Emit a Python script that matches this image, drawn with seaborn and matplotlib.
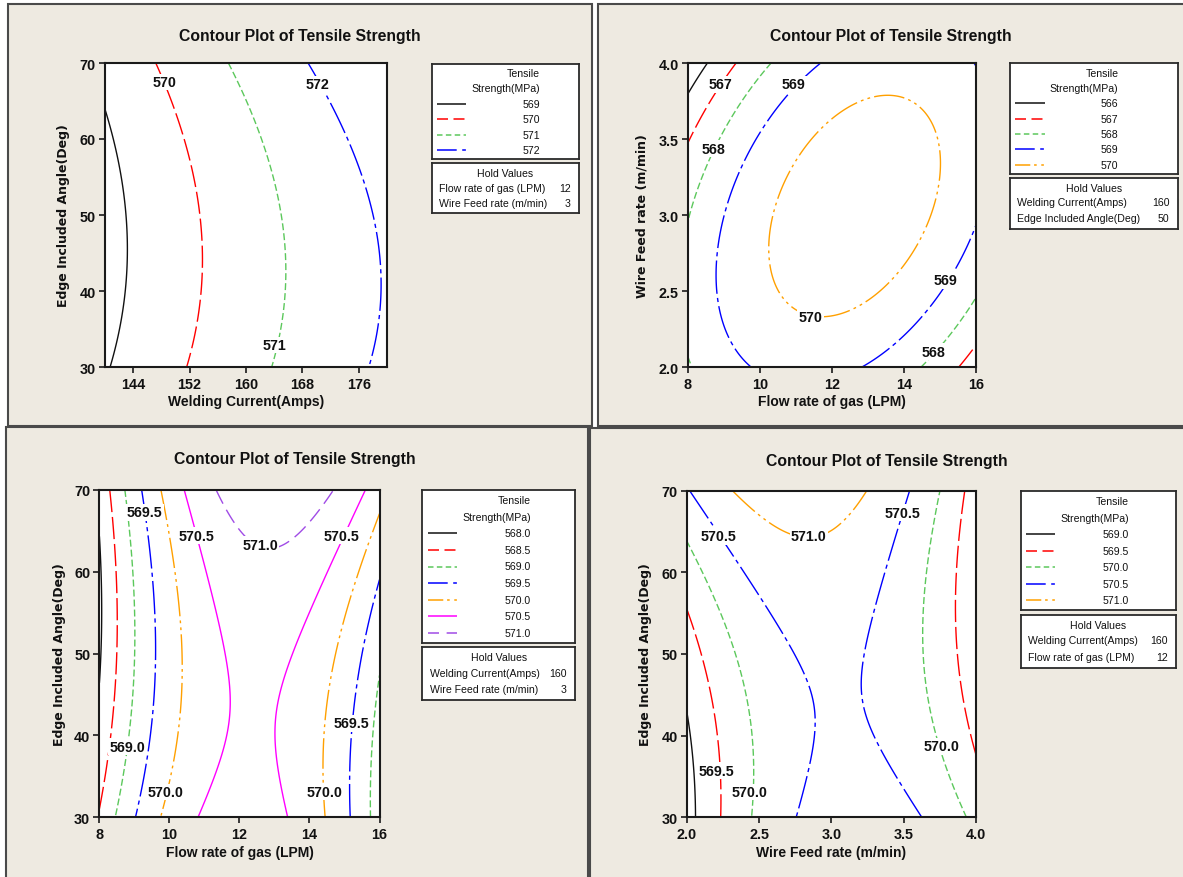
import numpy as np
import matplotlib
matplotlib.use("Agg")
import matplotlib.pyplot as plt
from matplotlib.patches import Rectangle
import seaborn as sns

sns.set_theme(style="white")
plt.rcParams["font.family"] = ["Liberation Sans", "DejaVu Sans"]

W, H = 1183, 878

# ---------------------------------------------------------------------------
# Quadratic response-surface model of tensile strength (coded factor units)
# factors: 0 welding current, 1 gas flow rate, 2 wire feed rate, 3 edge angle
# ---------------------------------------------------------------------------
factor_names = ["Welding Current(Amps)", "Flow rate of gas (LPM)",
                "Wire Feed rate (m/min)", "Edge Included Angle(Deg)"]
factor_center = [160.0, 12.0, 3.0, 50.0]
factor_step = [20.0, 4.0, 1.0, 20.0]
coef_const = 570.58
coef_linear = [1.72, 0.57, -0.041, 0.26]
coef_square = [-0.16, -2.06, -1.38, 0.39]
coef_pairs = [(0, 3), (1, 3), (2, 3), (1, 2)]
coef_cross = [0.10, 0.47, -0.566, 1.30]

# contour levels of each plot
levels_current_angle = [569, 570, 571, 572]
levels_gas_wire = [566, 567, 568, 569, 570]
levels_gas_angle = [568.0, 568.5, 569.0, 569.5, 570.0, 570.5, 571.0]
levels_wire_angle = [569.0, 569.5, 570.0, 570.5, 571.0]

# factors held fixed in each plot: (factor index, setting)
hold_current_angle = [(1, 12), (2, 3)]
hold_gas_wire = [(0, 160), (3, 50)]
hold_gas_angle = [(0, 160), (2, 3)]
hold_wire_angle = [(0, 160), (1, 12)]

# tick values
current_ticks = [144, 152, 160, 168, 176]
gas_ticks = [8, 10, 12, 14, 16]
wire_ticks = [2.0, 2.5, 3.0, 3.5, 4.0]
angle_ticks = [30, 40, 50, 60, 70]

# ---------------------------------------------------------------------------
# styling
# ---------------------------------------------------------------------------
PANEL_BG = "#EEEAE1"
level_colors = ["#111111", "#FF0000", "#5CC85C", "#0000FF", "#FFA000",
                "#FF00FF", "#A04BE6"]
plot_dashes = ["solid", (0, (16, 3.5)), (0, (5, 2.2)), (0, (24, 3, 3, 3)),
               (0, (22, 3, 2, 3, 2, 3)), "solid", (0, (11, 5))]
key_dashes = ["solid", (0, (7.2, 3.6)), (0, (3.6, 2.2)), (0, (12.9, 3.6, 2.4, 3.6)),
              (0, (10, 2.5, 1.7, 3, 1.7, 3)), "solid", (0, (7.2, 5))]

TOP_KEY = dict(t1=9.6, t2=24.8, first=40.3, step=15.3, pad=9.3,
               h_title=9.8, h_rows=(24.3, 40.1))
BOT_KEY = dict(t1=10.5, t2=27.0, first=43.3, step=16.6, pad=9.7,
               h_title=10.2, h_rows=(25.7, 42.2))

panels = [
    dict(fx=0, fy=3, levels=levels_current_angle, hold=hold_current_angle,
         xticks=current_ticks, yticks=angle_ticks, xfmt="{:.0f}", yfmt="{:.0f}",
         lfmt="{:.0f}",
         frame=(8, 5, 591.5, 426.7), plot=(105, 64, 387, 368),
         title=(299.5, 36), xlabel=(246, 402), ylabel=(63, 216),
         key=(431.7, 64.7, 579), hold_box=(164.3, 214.3), key_style=TOP_KEY,
         spots=[(148.4, 67.5, 1), (170.1, 67.2, 3), (164.05, 32.9, 2)]),
    dict(fx=1, fy=2, levels=levels_gas_wire, hold=hold_gas_wire,
         xticks=gas_ticks, yticks=wire_ticks, xfmt="{:.0f}", yfmt="{:.1f}",
         lfmt="{:.0f}",
         frame=(597.5, 5, 1190, 427), plot=(688, 64, 976, 368),
         title=(891, 36), xlabel=(832, 402), ylabel=(642, 216),
         key=(1010, 64, 1178), hold_box=(179, 230), key_style=TOP_KEY,
         spots=[(8.89, 3.86, 1), (10.94, 3.86, 3), (8.70, 3.435, 2),
                (11.41, 2.33, 4), (15.16, 2.57, 3), (14.83, 2.10, 2)]),
    dict(fx=1, fy=3, levels=levels_gas_angle, hold=hold_gas_angle,
         xticks=gas_ticks, yticks=angle_ticks, xfmt="{:.0f}", yfmt="{:.0f}",
         lfmt="{:.1f}",
         frame=(6, 428.3, 587.5, 885), plot=(99.4, 491, 379.5, 818.3),
         title=(295, 460), xlabel=(239.5, 853), ylabel=(59, 655),
         key=(422.4, 491, 575), hold_box=(648.3, 701), key_style=BOT_KEY,
         spots=[(9.28, 67.3, 3), (10.78, 64.4, 5), (12.59, 63.3, 6),
                (14.92, 64.4, 5), (8.79, 38.6, 2), (9.88, 33.1, 4),
                (15.19, 41.5, 3), (14.43, 33.1, 4)]),
    dict(fx=2, fy=3, levels=levels_wire_angle, hold=hold_wire_angle,
         xticks=wire_ticks, yticks=angle_ticks, xfmt="{:.1f}", yfmt="{:.0f}",
         lfmt="{:.1f}",
         frame=(589.5, 428.7, 1190, 885), plot=(686.7, 491.7, 976.2, 818.3),
         title=(887, 462), xlabel=(831.5, 853), ylabel=(645, 655),
         key=(1020.6, 491.7, 1176.2), hold_box=(615.7, 669.3), key_style=BOT_KEY,
         spots=[(3.494, 67.3, 3), (2.218, 64.4, 3), (2.844, 64.5, 4),
                (3.761, 38.7, 2), (2.204, 35.7, 1), (2.433, 33.1, 2)]),
]


def px_rect(l, t, r, b):
    return [l / W, 1 - b / H, (r - l) / W, (b - t) / H]


def fx_(x):
    return x / W


def fy_(y):
    return 1 - y / H


def response(gx, gy, ix, iy, hold):
    coded = [np.zeros_like(gx) for _ in range(4)]
    for idx, val in hold:
        coded[idx] = np.full_like(gx, (val - factor_center[idx]) / factor_step[idx])
    coded[ix] = (gx - factor_center[ix]) / factor_step[ix]
    coded[iy] = (gy - factor_center[iy]) / factor_step[iy]
    z = np.full_like(gx, coef_const)
    for i in range(4):
        z = z + coef_linear[i] * coded[i] + coef_square[i] * coded[i] ** 2
    for (i, j), c in zip(coef_pairs, coef_cross):
        z = z + c * coded[i] * coded[j]
    return z


fig = plt.figure(figsize=(W / 100, H / 100), dpi=100)
fig.patch.set_facecolor("white")

for p in panels:
    # panel background
    l, t, r, b = p["frame"]
    fig.add_artist(Rectangle((fx_(l), fy_(b)), (r - l) / W, (b - t) / H,
                             transform=fig.transFigure, facecolor=PANEL_BG,
                             edgecolor="#4a4a4a", linewidth=1.5, zorder=-5))

    ix, iy = p["fx"], p["fy"]
    x0 = factor_center[ix] - factor_step[ix]
    x1 = factor_center[ix] + factor_step[ix]
    y0 = factor_center[iy] - factor_step[iy]
    y1 = factor_center[iy] + factor_step[iy]
    gx, gy = np.meshgrid(np.linspace(x0, x1, 400), np.linspace(y0, y1, 400))
    z = response(gx, gy, ix, iy, p["hold"])

    ax = fig.add_axes(px_rect(*p["plot"]))
    ax.set_facecolor("white")
    for k, lev in enumerate(p["levels"]):
        ax.contour(gx, gy, z, levels=[lev], colors=[level_colors[k]],
                   linewidths=1.0, linestyles=[plot_dashes[k]])
    ax.set_xlim(x0, x1)
    ax.set_ylim(y0, y1)

    for sx, sy, li in p["spots"]:
        ax.text(sx, sy, p["lfmt"].format(p["levels"][li]), ha="center", va="center",
                fontsize=10.3, fontweight="bold", color="#111111", zorder=6,
                bbox=dict(boxstyle="square,pad=0.1", fc="white", ec="none"))

    ax.set_xticks(p["xticks"])
    ax.set_yticks(p["yticks"])
    ax.set_xticklabels([p["xfmt"].format(v) for v in p["xticks"]],
                       fontsize=10.4, fontweight="bold")
    ax.set_yticklabels([p["yfmt"].format(v) for v in p["yticks"]],
                       fontsize=10.4, fontweight="bold")
    ax.tick_params(axis="both", which="major", bottom=True, left=True,
                   direction="out", length=4, width=1.2, color="#1a1a1a",
                   labelcolor="#111111")
    ax.tick_params(axis="x", pad=3.2)
    ax.tick_params(axis="y", pad=2.6)
    for sp in ax.spines.values():
        sp.set_visible(True)
        sp.set_color("#1a1a1a")
        sp.set_linewidth(1.5)

    # titles and axis names
    fig.text(fx_(p["title"][0]), fy_(p["title"][1]), "Contour Plot of Tensile Strength",
             ha="center", va="center", fontsize=11.3, fontweight="bold", color="#111111")
    fig.text(fx_(p["xlabel"][0]), fy_(p["xlabel"][1]), factor_names[ix],
             ha="center", va="center", fontsize=10, fontweight="bold", color="#111111")
    fig.text(fx_(p["ylabel"][0]), fy_(p["ylabel"][1]), factor_names[iy],
             ha="center", va="center", rotation=90, fontsize=9,
             fontweight="bold", family=["DejaVu Sans"], color="#111111")

    # contour key
    ks = p["key_style"]
    kl, kt, kr = p["key"]
    n = len(p["levels"])
    kb = kt + ks["first"] + ks["step"] * (n - 1) + ks["pad"]
    kax = fig.add_axes(px_rect(kl, kt, kr, kb))
    kw, kh = kr - kl, kb - kt
    kax.set_xlim(0, kw)
    kax.set_ylim(kh, 0)
    kax.set_xticks([])
    kax.set_yticks([])
    kax.set_facecolor("white")
    for sp in kax.spines.values():
        sp.set_visible(True)
        sp.set_color("#2a2a2a")
        sp.set_linewidth(1.3)
    kax.text(108.5, ks["t1"], "Tensile", ha="right", va="center", fontsize=7.6,
             color="#111111")
    kax.text(108.5, ks["t2"], "Strength(MPa)", ha="right", va="center",
             fontsize=7.6, color="#111111")
    for k, lev in enumerate(p["levels"]):
        yy = ks["first"] + ks["step"] * k
        kax.plot([5.2, 34.5], [yy, yy], color=level_colors[k], lw=1.1,
                 linestyle=key_dashes[k], solid_capstyle="butt",
                 dash_capstyle="butt")
        kax.text(108.5, yy, p["lfmt"].format(lev), ha="right", va="center",
                 fontsize=7.6, color="#111111")

    # hold values box
    ht, hb = p["hold_box"]
    hax = fig.add_axes(px_rect(kl, ht, kr, hb))
    hax.set_xlim(0, kw)
    hax.set_ylim(hb - ht, 0)
    hax.set_xticks([])
    hax.set_yticks([])
    hax.set_facecolor("white")
    for sp in hax.spines.values():
        sp.set_visible(True)
        sp.set_color("#2a2a2a")
        sp.set_linewidth(1.3)
    hax.text(kw / 2, ks["h_title"], "Hold Values", ha="center", va="center",
             fontsize=7.6, color="#111111")
    for (idx, val), yy in zip(p["hold"], ks["h_rows"]):
        hax.text(7.2, yy, factor_names[idx], ha="left", va="center",
                 fontsize=7.6, color="#111111")
        hax.text(kw - 8.4, yy, "{:g}".format(val), ha="right", va="center",
                 fontsize=7.6, color="#111111")

fig.savefig("out.png", dpi=100, facecolor="white")
